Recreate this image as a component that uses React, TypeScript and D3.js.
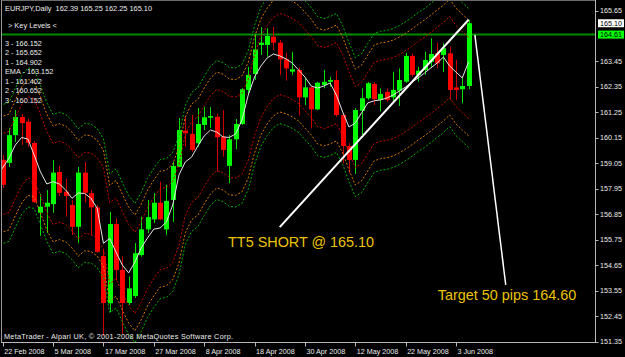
import React from 'react';
import * as d3 from 'd3';

const W = 625;
const H = 357;

// OHLC (EURJPY daily, 22 Feb 2008 – 5 Jun 2008)
const openP = [159.20, 159.07, 160.27, 161.05, 160.85, 159.93, 156.92, 157.18, 157.29, 158.68,
  157.83, 157.25, 156.31, 158.65, 157.76, 157.15, 155.05, 153.01, 156.43, 154.45,
  153.02, 153.32, 155.09, 156.20, 156.63, 157.35, 156.20, 157.47, 158.90, 160.46,
  160.32, 159.92, 160.71, 161.02, 161.06, 160.20, 158.94, 160.09, 160.75, 162.22,
  162.91, 164.16, 164.16, 164.52, 164.26, 163.54, 163.01, 163.08, 161.90, 162.33,
  161.38, 162.43, 162.57, 162.65, 161.14, 159.80, 159.20, 161.32, 161.86, 162.48,
  161.79, 162.14, 161.90, 162.19, 162.58, 163.69, 162.87, 163.08, 163.44, 163.80,
  163.73, 163.80, 162.33, 162.25, 162.39];
const highP = [159.41, 160.58, 161.35, 161.18, 160.96, 160.01, 157.73, 157.90, 159.20, 158.94,
  158.39, 157.47, 158.90, 159.12, 157.90, 157.25, 155.31, 156.96, 156.69, 155.02,
  154.16, 155.61, 156.75, 157.47, 157.77, 158.26, 158.12, 159.12, 161.01, 161.06,
  161.14, 161.44, 161.49, 161.48, 161.20, 161.35, 160.27, 160.97, 162.30, 163.22,
  164.64, 164.93, 164.88, 164.95, 164.38, 163.83, 163.87, 163.19, 162.72, 162.36,
  162.57, 163.08, 162.78, 163.05, 161.21, 159.92, 161.43, 162.29, 162.56, 162.56,
  162.29, 162.29, 163.00, 163.15, 163.82, 163.80, 163.22, 163.87, 164.45, 164.26,
  164.23, 164.09, 163.51, 162.79, 165.25];
const lowP = [157.99, 158.89, 159.97, 159.84, 159.76, 157.34, 155.92, 156.04, 156.92, 157.64,
  156.75, 155.96, 155.61, 157.35, 155.92, 155.18, 151.60, 152.63, 154.01, 151.68,
  152.93, 153.24, 155.02, 156.04, 156.47, 156.60, 155.96, 156.52, 158.89, 159.77,
  159.55, 159.77, 160.49, 160.58, 158.69, 159.34, 158.19, 159.66, 160.71, 162.04,
  162.65, 163.73, 163.66, 163.94, 162.87, 162.62, 162.87, 161.12, 161.57, 160.56,
  161.35, 162.29, 162.36, 161.06, 159.05, 158.62, 158.59, 160.20, 161.79, 161.57,
  161.30, 161.71, 161.71, 161.53, 162.52, 162.79, 162.58, 162.87, 163.22, 163.15,
  162.99, 161.79, 161.79, 161.64, 162.25];
const closeP = [158.12, 160.27, 161.05, 160.79, 159.94, 157.38, 157.18, 157.35, 158.65, 157.78,
  157.64, 156.31, 158.65, 157.78, 157.15, 155.23, 153.02, 156.43, 154.45, 153.02,
  153.65, 155.17, 156.20, 156.73, 157.35, 156.63, 157.43, 158.94, 160.49, 160.35,
  159.63, 160.75, 161.04, 161.09, 160.18, 159.63, 160.09, 160.75, 162.25, 162.87,
  163.97, 164.26, 164.55, 164.26, 163.54, 163.15, 163.11, 161.90, 162.33, 161.38,
  162.53, 162.57, 162.65, 161.14, 159.80, 159.20, 161.35, 161.86, 162.51, 161.82,
  162.05, 161.79, 162.22, 162.65, 163.69, 162.87, 163.05, 163.51, 163.77, 163.37,
  164.02, 162.22, 162.22, 162.39, 165.10];

// White EMA line
const emaP = [158.68, 159.28, 159.84, 160.17, 160.10, 159.41, 158.68, 158.16, 158.26, 158.16,
  157.90, 157.54, 157.77, 157.75, 157.55, 157.11, 155.60, 155.81, 155.22, 154.66,
  154.32, 154.79, 155.40, 155.83, 156.21, 156.26, 156.52, 157.25, 158.55, 159.11,
  159.32, 159.80, 160.23, 160.49, 160.40, 160.19, 160.17, 160.32, 160.92, 162.00,
  162.78, 163.25, 163.60, 163.77, 163.69, 163.56, 163.38, 163.08, 162.78, 162.39,
  162.30, 162.39, 162.52, 162.00, 161.27, 160.62, 160.79, 161.23, 161.66, 161.75,
  161.79, 161.87, 162.00, 162.17, 162.35, 162.56, 162.74, 162.95, 163.17, 163.38,
  163.64, 163.25, 162.99, 162.74, 163.43];

// Centre of the dotted key-level bands
const bandMid = [158.55, 158.68, 159.28, 159.84, 160.17, 160.10, 159.41, 158.68, 158.16, 158.26,
  158.16, 157.90, 157.54, 157.77, 157.75, 157.55, 157.11, 155.60, 155.81, 155.22,
  154.66, 154.32, 154.79, 155.40, 155.83, 156.21, 156.26, 156.52, 157.25, 158.55,
  159.11, 159.32, 159.80, 160.23, 160.49, 160.40, 160.19, 160.17, 160.32, 160.92,
  162.00, 162.78, 163.25, 163.60, 163.77, 163.69, 163.56, 163.38, 163.08, 162.78,
  162.39, 162.30, 162.39, 162.52, 162.00, 161.27, 160.62, 160.79, 161.23, 161.66,
  161.75, 161.79, 161.87, 162.00, 162.17, 162.35, 162.56, 162.74, 162.95, 163.17,
  163.38, 163.64, 163.25, 162.99, 162.74];
const bandOffsets = [3.0, 2.5, 1.75];
const bandColors = ['#00b000', '#d87800', '#c80000'];

const keyLevelLabels = ['3 - 166.152', '2 - 165.652', '1 - 164.902', 'EMA - 163.152',
  '1 - 161.402', '2 - 160.652', '3 - 160.152'];
const priceTicks = [165.65, 163.45, 162.35, 161.25, 160.15, 159.05, 157.95, 156.85,
  155.75, 154.65, 153.55, 152.45, 151.35];
const levelPrice = 164.61;
const shortPrice = 165.10;
const headerText = 'EURJPY,Daily  162.39 165.25 162.25 165.10';
const copyrightText = 'MetaTrader - Alpari UK, \u00a9 2001-2008 MetaQuotes Software Corp.';
const shortText = 'TT5 SHORT @ 165.10';
const targetText = 'Target 50 pips 164.60';
const shortLine = [{ i: 44, p: 156.3 }, { i: 74, p: 165.25 }];
const targetLine = [{ i: 75, p: 164.6 }, { i: 79.9, p: 153.8 }];
const shortTextAt = { i: 35.8, p: 155.42 };
const targetTextAt = { i: 69.1, p: 153.15 };

const dates = d3.timeDay
  .range(new Date(2008, 1, 22), new Date(2008, 5, 6))
  .filter((d) => d.getDay() !== 0 && d.getDay() !== 6);
const fmtDate = d3.timeFormat('%-d %b %Y');

const FONT = "'Liberation Sans', Arial, sans-serif";

export default function App() {
  const plot = { left: 2, right: 595, top: 1, bottom: 342.5 };
  const x = d3.scaleLinear().domain([0, 72]).range([2.7, 456]);
  const y = d3.scaleLinear().domain([151.35, 165.65]).range([341.7, 10.5]);

  const lineGen = d3.line<[number, number]>().x((d) => d[0]).y((d) => d[1]);
  const emaPath = lineGen(emaP.map((v, i) => [i === 0 ? 0 : x(i), y(v)] as [number, number]));

  const bandPaths: { d: string; color: string }[] = [];
  bandOffsets.forEach((off, k) => {
    [1, -1].forEach((sgn) => {
      const d = lineGen(bandMid.map((m, i) => [i === 0 ? 0 : x(i), y(m + sgn * off)] as [number, number]));
      bandPaths.push({ d: d || '', color: bandColors[k] });
    });
  });

  const tickIdx = dates.map((_, i) => i).filter((i) => i % 8 === 0);
  const textColor = '#ececec';

  return (
    <svg width={W} height={H} style={{ position: 'absolute', left: 0, top: 0, display: 'block', background: '#000' }}>
      <defs>
        <clipPath id="plotClip">
          <rect x={plot.left} y={plot.top} width={plot.right - plot.left} height={plot.bottom - plot.top} />
        </clipPath>
      </defs>
      <rect x={0} y={0} width={W} height={H} fill="#000" />

      <g clipPath="url(#plotClip)">
        {/* horizontal level line */}
        <line x1={plot.left} x2={plot.right} y1={y(levelPrice)} y2={y(levelPrice)} stroke="#008c00" strokeWidth={2} />

        {/* candles */}
        {openP.map((o, i) => {
          const c = closeP[i];
          const up = c >= o;
          const col = up ? '#00ff00' : '#ff0000';
          const cx = Math.round(x(i));
          const top = y(Math.max(o, c));
          const bot = y(Math.min(o, c));
          return (
            <g key={i}>
              <line x1={cx + 0.5} x2={cx + 0.5} y1={y(highP[i])} y2={y(lowP[i])} stroke={up ? '#00e000' : '#d00000'} strokeWidth={1} />
              <rect x={cx - 2} y={top} width={5} height={Math.max(1.2, bot - top)} fill={col} />
            </g>
          );
        })}

        {/* dotted bands */}
        {bandPaths.map((b, k) => (
          <path key={k} d={b.d} fill="none" stroke={b.color} strokeWidth={1} strokeDasharray="2,1.8" />
        ))}

        {/* EMA */}
        <path d={emaPath || ''} fill="none" stroke="#e6e6e6" strokeWidth={1} />

        {/* annotation lines */}
        <line x1={x(shortLine[0].i)} y1={y(shortLine[0].p)} x2={x(shortLine[1].i)} y2={y(shortLine[1].p)} stroke="#ffffff" strokeWidth={2} />
        <line x1={x(targetLine[0].i)} y1={y(targetLine[0].p)} x2={x(targetLine[1].i)} y2={y(targetLine[1].p)} stroke="#ffffff" strokeWidth={1.5} />
      </g>

      {/* frame */}
      <line x1={1.5} x2={1.5} y1={0} y2={343} stroke="#9a9a9a" strokeWidth={1} />
      <line x1={1.5} x2={595.5} y1={0.5} y2={0.5} stroke="#6a6a6a" strokeWidth={1} />
      <line x1={595.5} x2={595.5} y1={0} y2={343} stroke="#b8b8b8" strokeWidth={1} />
      <line x1={1} x2={596} y1={342.5} y2={342.5} stroke="#b8b8b8" strokeWidth={1} />

      {/* texts in plot */}
      <text x={5} y={11} fill={textColor} fontFamily={FONT} fontSize={7.4} xmlSpace="preserve" textLength={147} lengthAdjust="spacing">{headerText}</text>
      <text x={8} y={27.5} fill={textColor} fontFamily={FONT} fontSize={7.4}>{'> Key Levels <'}</text>
      {keyLevelLabels.map((t, i) => (
        <text key={t + i} x={5} y={45.8 + i * 9.45} fill={textColor} fontFamily={FONT} fontSize={7.3}>{t}</text>
      ))}
      <text x={4} y={339.3} fill={textColor} fontFamily={FONT} fontSize={7.3} textLength={229} lengthAdjust="spacing">{copyrightText}</text>

      <text x={x(shortTextAt.i)} y={y(shortTextAt.p)} fill="#ecc400" fontFamily={FONT} fontSize={14.4}>{shortText}</text>
      <text x={x(targetTextAt.i)} y={y(targetTextAt.p)} fill="#ecc400" fontFamily={FONT} fontSize={14.4}>{targetText}</text>

      {/* right axis */}
      {priceTicks.map((p) => (
        <g key={p}>
          <line x1={595.5} x2={598.5} y1={Math.round(y(p)) + 0.5} y2={Math.round(y(p)) + 0.5} stroke="#b8b8b8" />
          <text x={600} y={y(p)} dy="0.35em" fill={textColor} fontFamily={FONT} fontSize={7.2}>{p.toFixed(2)}</text>
        </g>
      ))}
      <rect x={598} y={y(shortPrice) - 4} width={26} height={8} fill="#ffffff" />
      <text x={600} y={y(shortPrice)} dy="0.35em" fill="#000" fontFamily={FONT} fontSize={7.2}>{shortPrice.toFixed(2)}</text>
      <rect x={598} y={y(levelPrice) - 4} width={26} height={8} fill="#00ff00" />
      <text x={600} y={y(levelPrice)} dy="0.35em" fill="#000" fontFamily={FONT} fontSize={7.2}>{levelPrice.toFixed(2)}</text>

      {/* bottom axis */}
      {tickIdx.map((i) => (
        <g key={i}>
          <line x1={Math.round(x(i)) + 0.5} x2={Math.round(x(i)) + 0.5} y1={343} y2={346.5} stroke="#b8b8b8" />
          <text x={x(i) + 1.5} y={353.5} fill={textColor} fontFamily={FONT} fontSize={7.2}>{fmtDate(dates[i])}</text>
        </g>
      ))}
    </svg>
  );
}
